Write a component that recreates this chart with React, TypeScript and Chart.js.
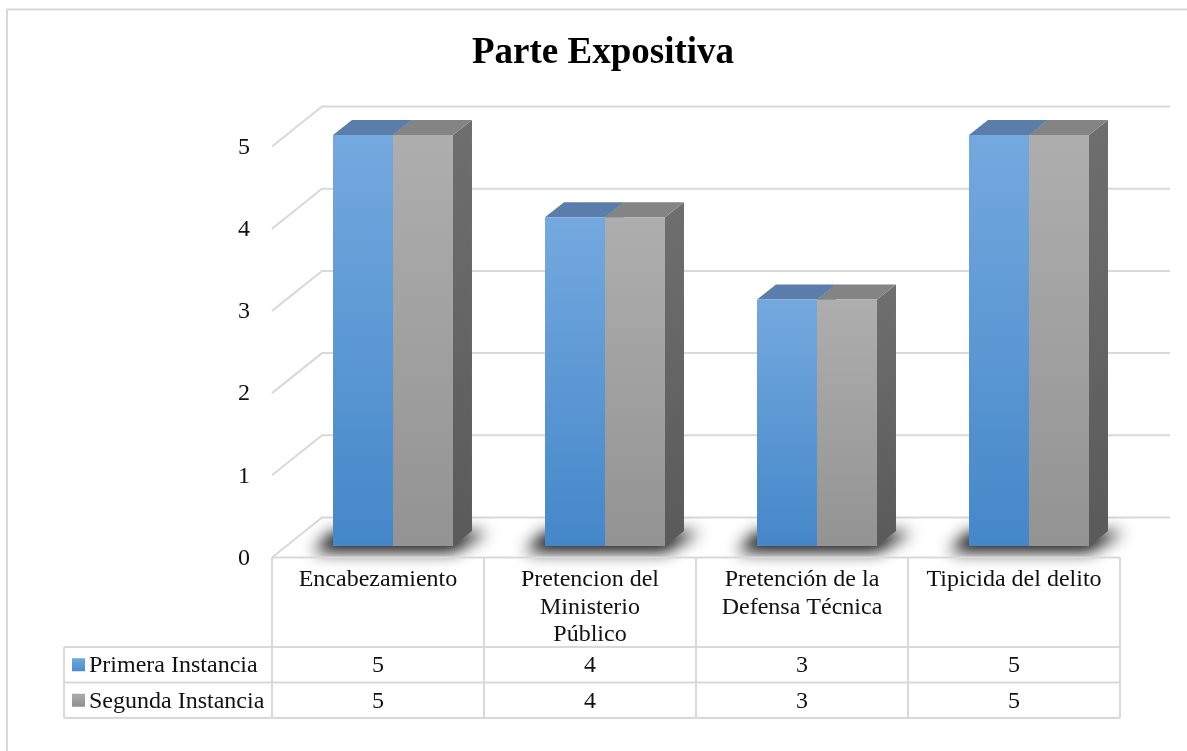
import React, { useEffect, useRef } from "react";
import { Chart, registerables } from "chart.js";

Chart.register(...registerables);

// ---- data ----
const chartTitle = "Parte Expositiva";
const categories: string[][] = [
  ["Encabezamiento"],
  ["Pretencion del", "Ministerio", "Público"],
  ["Pretención de la", "Defensa Técnica"],
  ["Tipicida del delito"],
];
const seriesNames = ["Primera Instancia", "Segunda Instancia"];
const primeraInstancia = [5, 4, 3, 5];
const segundaInstancia = [5, 4, 3, 5];
const yTickMin = 0;
const yTickMax = 5;
const yTickStep = 1;

// ---- style ----
const FONT = "'Liberation Serif', 'Times New Roman', serif";
const TEXT = "#111111";
const LINE = "#d9d9d9";
const FS = 24;
const FRONT_DX = -15;
const FRONT_DY = 11.5;
const BACK_DX = 35;
const BACK_DY = -28.5;
const BAR_DX = 19;
const BAR_DY = -15;

const palette = [
  { frontTop: "#74a9df", frontBot: "#4487c9", top: "#5a7ea9", sideTop: "#4d6f96", sideBot: "#3d5d80", keyTop: "#6ea8e0", keyBot: "#4a8ccc" },
  { frontTop: "#aeaeae", frontBot: "#939393", top: "#848484", sideTop: "#6e6e6e", sideBot: "#5a5a5a", keyTop: "#acacac", keyBot: "#8e8e8e" },
];

function poly(ctx: CanvasRenderingContext2D, pts: number[][], ox = 0) {
  ctx.beginPath();
  ctx.moveTo(pts[0][0] + ox, pts[0][1]);
  for (let i = 1; i < pts.length; i++) ctx.lineTo(pts[i][0] + ox, pts[i][1]);
  ctx.closePath();
}

const threeDPlugin = {
  id: "threeD",
  beforeDatasetsDraw(chart: any) {
    const ctx: CanvasRenderingContext2D = chart.ctx;
    const ys = chart.scales.y;
    const { left, right } = chart.chartArea;

    // outer border
    ctx.save();
    ctx.strokeStyle = LINE;
    ctx.lineWidth = 2;
    ctx.beginPath();
    ctx.moveTo(7, 760);
    ctx.lineTo(7, 9.5);
    ctx.lineTo(1200, 9.5);
    ctx.stroke();

    // walls / gridlines
    ctx.lineWidth = 2;
    for (let v = yTickMin; v <= yTickMax; v += yTickStep) {
      const y = ys.getPixelForValue(v);
      ctx.beginPath();
      ctx.moveTo(left + FRONT_DX, y + FRONT_DY);
      ctx.lineTo(left + BACK_DX, y + BACK_DY);
      ctx.lineTo(right + BACK_DX, y + BACK_DY);
      ctx.stroke();
    }
    ctx.restore();

    const metas = [chart.getDatasetMeta(0), chart.getDatasetMeta(1)];
    const n = categories.length;

    // soft shadows (shape drawn off-canvas, only its shadow lands here)
    const OFF = 5000;
    for (let i = 0; i < n; i++) {
      const b0 = metas[0].data[i].getProps(["x", "y", "base", "width"], true);
      const b1 = metas[1].data[i].getProps(["x", "y", "base", "width"], true);
      const x1 = b0.x - b0.width / 2;
      const x2 = b1.x + b1.width / 2;
      const yb = b0.base;
      ctx.save();
      ctx.shadowColor = "rgba(0,0,0,0.95)";
      ctx.shadowBlur = 16;
      ctx.shadowOffsetX = OFF - 6;
      ctx.shadowOffsetY = 4;
      ctx.fillStyle = "#000";
      poly(
        ctx,
        [
          [x1 - 14, yb + 2],
          [x2 + 6, yb + 2],
          [x2 + BAR_DX + 22, yb + BAR_DY - 3],
          [x1 + BAR_DX - 14, yb + BAR_DY - 3],
        ],
        -OFF
      );
      ctx.fill();
      ctx.restore();
    }

    // side and top faces
    for (let i = 0; i < n; i++) {
      for (let d = 0; d < 2; d++) {
        const b = metas[d].data[i].getProps(["x", "y", "base", "width"], true);
        const l = b.x - b.width / 2;
        const r = b.x + b.width / 2;
        const t = b.y;
        const base = b.base;
        const p = palette[d];
        const g = ctx.createLinearGradient(0, t, 0, base);
        g.addColorStop(0, p.sideTop);
        g.addColorStop(1, p.sideBot);
        ctx.fillStyle = g;
        poly(ctx, [
          [r, t],
          [r + BAR_DX, t + BAR_DY],
          [r + BAR_DX, base + BAR_DY],
          [r, base],
        ]);
        ctx.fill();
        ctx.fillStyle = p.top;
        poly(ctx, [
          [l, t],
          [l + BAR_DX, t + BAR_DY],
          [r + BAR_DX, t + BAR_DY],
          [r, t],
        ]);
        ctx.fill();
      }
    }
  },
  afterDraw(chart: any) {
    const ctx: CanvasRenderingContext2D = chart.ctx;
    const ys = chart.scales.y;
    const xs = chart.scales.x;
    const n = categories.length;
    const cw = (xs.right - xs.left) / n;
    const bounds: number[] = [];
    for (let k = 0; k <= n; k++) bounds.push(xs.left + k * cw + FRONT_DX);
    const tableTop = ys.getPixelForValue(0) + FRONT_DY;
    const headerBottom = tableTop + 89.5;
    const rowH = 35.5;
    const legendLeft = 64;
    const rows = [primeraInstancia, segundaInstancia];

    ctx.save();
    ctx.strokeStyle = LINE;
    ctx.lineWidth = 2;
    ctx.beginPath();
    ctx.moveTo(bounds[0], tableTop);
    ctx.lineTo(bounds[n], tableTop);
    for (let k = 0; k <= n; k++) {
      ctx.moveTo(bounds[k], tableTop);
      ctx.lineTo(bounds[k], headerBottom + rowH * rows.length);
    }
    for (let r = 0; r <= rows.length; r++) {
      const y = headerBottom + r * rowH;
      ctx.moveTo(legendLeft, y);
      ctx.lineTo(bounds[n], y);
    }
    ctx.moveTo(legendLeft, headerBottom);
    ctx.lineTo(legendLeft, headerBottom + rowH * rows.length);
    ctx.stroke();

    ctx.font = `${FS}px ${FONT}`;
    ctx.fillStyle = TEXT;
    ctx.textBaseline = "middle";
    for (let r = 0; r < rows.length; r++) {
      const cy = headerBottom + r * rowH + rowH / 2;
      const p = palette[r];
      const g = ctx.createLinearGradient(0, cy - 6.5, 0, cy + 6.5);
      g.addColorStop(0, p.keyTop);
      g.addColorStop(1, p.keyBot);
      ctx.fillStyle = g;
      ctx.fillRect(72, cy - 6.5, 13, 13);
      ctx.fillStyle = TEXT;
      ctx.textAlign = "left";
      ctx.fillText(seriesNames[r], 89, cy + 1);
      ctx.textAlign = "center";
      for (let i = 0; i < n; i++) {
        const cx = xs.getPixelForValue(i) + FRONT_DX;
        ctx.fillText(String(rows[r][i]), cx, cy + 1);
      }
    }
    ctx.restore();
  },
};

function frontGradient(d: number) {
  return (c: any) => {
    const chart = c.chart;
    const ys = chart.scales && chart.scales.y;
    const p = palette[d];
    if (!ys || c.raw == null || !chart.chartArea) return p.frontBot;
    const top = ys.getPixelForValue(c.raw);
    const bot = ys.getPixelForValue(0);
    const g = chart.ctx.createLinearGradient(0, top, 0, bot);
    g.addColorStop(0, p.frontTop);
    g.addColorStop(1, p.frontBot);
    return g;
  };
}

export default function App() {
  const ref = useRef<HTMLCanvasElement>(null);
  useEffect(() => {
    if (!ref.current) return;
    const chart = new Chart(ref.current, {
      type: "bar",
      data: {
        labels: categories,
        datasets: [
          { label: seriesNames[0], data: primeraInstancia, backgroundColor: frontGradient(0), borderWidth: 0, categoryPercentage: 0.566, barPercentage: 1 },
          { label: seriesNames[1], data: segundaInstancia, backgroundColor: frontGradient(1), borderWidth: 0, categoryPercentage: 0.566, barPercentage: 1 },
        ],
      },
      options: {
        responsive: false,
        animation: false,
        devicePixelRatio: 1,
        layout: { padding: { left: 71, right: 52, top: 9, bottom: 104 } },
        plugins: {
          legend: { display: false },
          tooltip: { enabled: false },
          title: {
            display: true,
            text: chartTitle,
            color: "#000",
            font: { family: FONT, size: 37, weight: "bold", lineHeight: 1.2 },
            padding: { top: 22, bottom: 59.6 },
          },
        },
        scales: {
          x: {
            grid: { display: false, drawTicks: false },
            border: { display: false },
            ticks: {
              color: TEXT,
              font: { family: FONT, size: FS, lineHeight: 1.15 },
              padding: 20,
              labelOffset: FRONT_DX,
              autoSkip: false,
              maxRotation: 0,
              minRotation: 0,
            },
            afterFit: (s: any) => {
              s.height = 101;
            },
          },
          y: {
            min: yTickMin,
            max: yTickMax,
            grid: { display: false, drawTicks: false },
            border: { display: false },
            ticks: {
              stepSize: yTickStep,
              color: TEXT,
              font: { family: FONT, size: FS },
              padding: 37,
              labelOffset: 12.5,
            },
            afterFit: (s: any) => {
              s.width = 216;
            },
          },
        },
      },
      plugins: [threeDPlugin],
    } as any);
    return () => chart.destroy();
  }, []);
  return (
    <div style={{ position: "absolute", left: 0, top: 0, width: 1187, height: 751, background: "#fff" }}>
      <canvas ref={ref} width={1187} height={751} style={{ display: "block" }} />
    </div>
  );
}
